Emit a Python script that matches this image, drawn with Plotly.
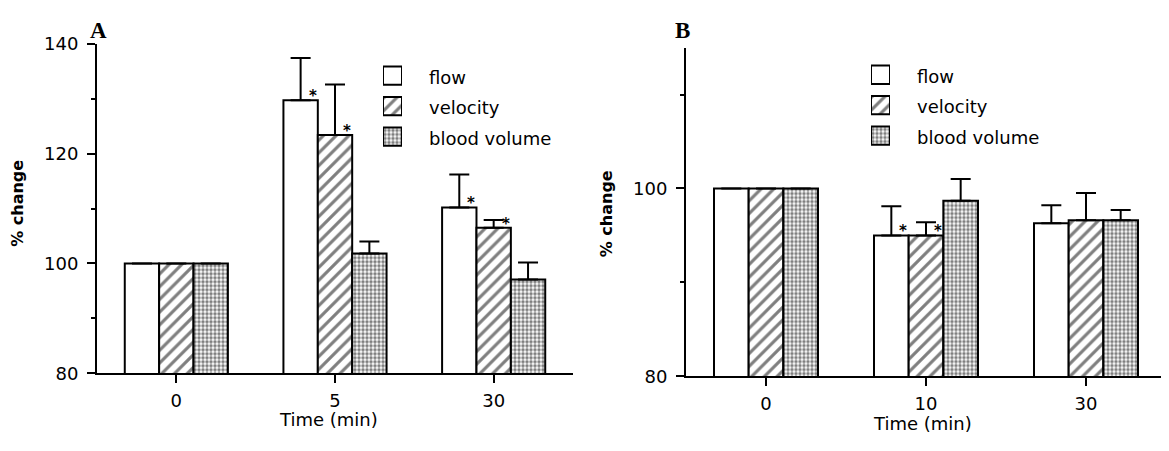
import plotly.graph_objects as go

# page body has an 8px default margin; lay the figure out in page pixels
OFF = 8
W, H = 1169 - OFF, 451 - OFF

# ---------------- data ----------------
series_names = ["flow", "velocity", "blood volume"]
times_a = ["0", "5", "30"]
times_b = ["0", "10", "30"]

flow_a = [100, 129.7, 110.2]
flow_a_err = [0, 7.7, 6.0]
velocity_a = [100, 123.4, 106.5]
velocity_a_err = [0, 9.2, 1.4]
blood_a = [100, 101.8, 97.1]
blood_a_err = [0, 2.2, 3.1]
flow_a_sig = [0, 1, 1]
velocity_a_sig = [0, 1, 1]
blood_a_sig = [0, 0, 0]

flow_b = [100, 95.0, 96.3]
flow_b_err = [0, 3.1, 1.9]
velocity_b = [100, 95.0, 96.6]
velocity_b_err = [0, 1.4, 2.9]
blood_b = [100, 98.7, 96.6]
blood_b_err = [0, 2.3, 1.1]
flow_b_sig = [0, 1, 0]
velocity_b_sig = [0, 1, 0]
blood_b_sig = [0, 0, 0]

yrange_a = [80, 140]
yrange_b = [80, 115]

# ---------------- styles ----------------
FONT = "DejaVu Sans"
patterns = {
    "flow": dict(shape=""),
    "velocity": dict(shape="/", size=9, solidity=0.35, fgcolor="black", bgcolor="white"),
    "blood volume": dict(shape=".", size=4, solidity=0.6, fgcolor="black", bgcolor="white"),
}


def px_x(p):
    return (p - OFF) / W


def px_y(p):
    return 1 - (p - OFF) / H


fig = go.Figure()

panels = [
    dict(times=times_a, vals=[flow_a, velocity_a, blood_a],
         errs=[flow_a_err, velocity_a_err, blood_a_err],
         sigs=[flow_a_sig, velocity_a_sig, blood_a_sig],
         xa="x", ya="y", sx="x3", sy="y3"),
    dict(times=times_b, vals=[flow_b, velocity_b, blood_b],
         errs=[flow_b_err, velocity_b_err, blood_b_err],
         sigs=[flow_b_sig, velocity_b_sig, blood_b_sig],
         xa="x2", ya="y2", sx="x4", sy="y4"),
]

bargap = 0.35
barw = (1 - bargap) / 3
offsets = [-barw, 0, barw]
annotations = []

for p in panels:
    for k, name in enumerate(series_names):
        fig.add_trace(go.Bar(
            x=p["times"], y=p["vals"][k], name=name, showlegend=False,
            xaxis=p["xa"], yaxis=p["ya"],
            marker=dict(color="white", line=dict(color="black", width=2),
                        pattern=patterns[name]),
            error_y=dict(type="data", symmetric=False, array=p["errs"][k],
                         arrayminus=[0] * len(p["errs"][k]),
                         color="black", thickness=2, width=10),
        ))
        for i, s in enumerate(p["sigs"][k]):
            if s:
                annotations.append(dict(
                    x=i + offsets[k] + 0.075, y=p["vals"][k][i],
                    xref=p["xa"], yref=p["ya"], text="*", showarrow=False,
                    yanchor="middle", xanchor="center", yshift=4,
                    font=dict(family=FONT, size=15, color="black", weight="bold")))
        # legend swatch
        fig.add_trace(go.Bar(
            x=[1], y=[k], orientation="h", width=0.6, showlegend=False,
            xaxis=p["sx"], yaxis=p["sy"], cliponaxis=False, hoverinfo="skip",
            marker=dict(color="white", line=dict(color="black", width=2),
                        pattern=patterns[name]),
        ))

axis_common = dict(showline=True, linecolor="black", linewidth=2, ticks="outside",
                   ticklen=8, tickwidth=2, tickcolor="black", showgrid=False,
                   zeroline=False, tickfont=dict(family=FONT, size=18, color="black"))

fig.update_layout(
    width=W, height=H, margin=dict(l=0, r=0, t=0, b=0),
    paper_bgcolor="white", plot_bgcolor="white",
    barmode="group", bargap=bargap, bargroupgap=0,
    xaxis=dict(domain=[px_x(97), px_x(573)], type="category", range=[-0.5, 2.5],
               anchor="y", ticklabelstandoff=2, **axis_common),
    yaxis=dict(domain=[px_y(380), px_y(34)], range=yrange_a, tickmode="linear",
               tick0=80, dtick=20, anchor="x", ticklabelstandoff=5,
               minor=dict(ticks="outside", ticklen=4, tickwidth=2, tickcolor="black",
                          dtick=10, tick0=80, showgrid=False),
               **axis_common),
    xaxis2=dict(domain=[px_x(686), px_x(1166)], type="category", range=[-0.5, 2.5],
                anchor="y2", ticklabelstandoff=2, **axis_common),
    yaxis2=dict(domain=[px_y(383), px_y(38)], range=yrange_b, tickmode="linear",
                tick0=80, dtick=20, anchor="x2", ticklabelstandoff=5,
                minor=dict(ticks="outside", ticklen=4, tickwidth=2, tickcolor="black",
                           dtick=10, tick0=80, showgrid=False),
                **axis_common),
    xaxis3=dict(domain=[px_x(383), px_x(402)], range=[0, 1], visible=False, anchor="y3"),
    yaxis3=dict(domain=[px_y(147.5), px_y(51.5)], range=[2.5, -0.5], visible=False, anchor="x3"),
    xaxis4=dict(domain=[px_x(871), px_x(890)], range=[0, 1], visible=False, anchor="y4"),
    yaxis4=dict(domain=[px_y(146.5), px_y(50.5)], range=[2.5, -0.5], visible=False, anchor="x4"),
)

# legend texts
for base_x, rows in [(427, [69, 101, 133]), (915, [68, 100, 132])]:
    for name, yy in zip(series_names, rows):
        annotations.append(dict(x=px_x(base_x), y=px_y(yy), xref="paper", yref="paper",
                                text=name, showarrow=False, xanchor="left", yanchor="middle",
                                font=dict(family=FONT, size=18, color="black")))

# panel letters
for letter, xx, yy in [("A", 98, 20), ("B", 682, 20)]:
    annotations.append(dict(x=px_x(xx), y=px_y(yy), xref="paper", yref="paper", text=letter,
                            showarrow=False, xanchor="center", yanchor="middle",
                            font=dict(family="Liberation Serif", size=23, color="black",
                                      weight="bold")))

# axis titles
for xx, yy in [(18, 202), (606, 213)]:
    annotations.append(dict(x=px_x(xx), y=px_y(yy), xref="paper", yref="paper", text="% change",
                            textangle=-90, showarrow=False, xanchor="center", yanchor="middle",
                            font=dict(family=FONT, size=16, color="black", weight="bold")))
for xx, yy in [(329, 428), (922, 433)]:
    annotations.append(dict(x=px_x(xx), y=px_y(yy), xref="paper", yref="paper", text="Time (min)",
                            showarrow=False, xanchor="center", yanchor="middle",
                            font=dict(family=FONT, size=18, color="black")))

fig.update_layout(annotations=annotations)
fig.write_html("out.html")
